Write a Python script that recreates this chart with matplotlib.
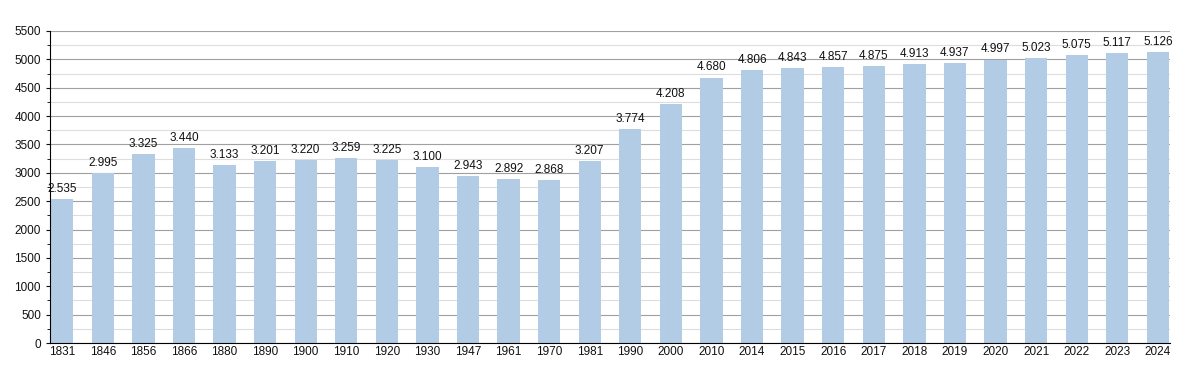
import matplotlib

matplotlib.use("Agg")
import matplotlib.pyplot as plt
from matplotlib.ticker import MultipleLocator

years = [
    "1831", "1846", "1856", "1866", "1880", "1890", "1900", "1910", "1920", "1930",
    "1947", "1961", "1970", "1981", "1990", "2000", "2010", "2014", "2015", "2016",
    "2017", "2018", "2019", "2020", "2021", "2022", "2023", "2024",
]
population = [
    2535, 2995, 3325, 3440, 3133, 3201, 3220, 3259, 3225, 3100,
    2943, 2892, 2868, 3207, 3774, 4208, 4680, 4806, 4843, 4857,
    4875, 4913, 4937, 4997, 5023, 5075, 5117, 5126,
]
barLabels = [f"{value:,}".replace(",", ".") for value in population]

plt.rcParams["font.family"] = ["Liberation Sans", "DejaVu Sans"]


def plotPopulation():
    fig = plt.figure(figsize=(12, 3.73), dpi=100)
    ax = fig.add_axes([0.0417, 0.0804, 0.9333, 0.8365])
    positions = list(range(len(years)))
    bars = ax.bar(positions, population, width=0.55, color="#b3cce6", zorder=2)
    for bar, label in zip(bars, barLabels):
        ax.annotate(
            label,
            (bar.get_x() + bar.get_width() / 2, bar.get_height()),
            xytext=(0, 3),
            textcoords="offset points",
            ha="center",
            va="bottom",
            fontsize=8.5,
            color="#111111",
        )
    ax.set_xticks(positions)
    ax.set_xticklabels(years)
    ax.set_xlim(-0.3, len(years) - 0.7)
    ax.set_ylim(0, 5500)
    ax.yaxis.set_major_locator(MultipleLocator(500))
    ax.yaxis.set_minor_locator(MultipleLocator(250))
    ax.grid(axis="y", which="major", color="#a0a0a0", linewidth=0.8, zorder=0)
    ax.grid(axis="y", which="minor", color="#dddddd", linewidth=0.8, zorder=0)
    ax.tick_params(axis="both", labelsize=8.5, colors="#111111", length=3)
    ax.tick_params(axis="x", length=0, pad=2)
    ax.tick_params(axis="y", which="minor", length=2)
    for side in ["top", "right"]:
        ax.spines[side].set_visible(False)
    plt.savefig("out.png")
    plt.close(fig)


if __name__ == "__main__":
    plotPopulation()
